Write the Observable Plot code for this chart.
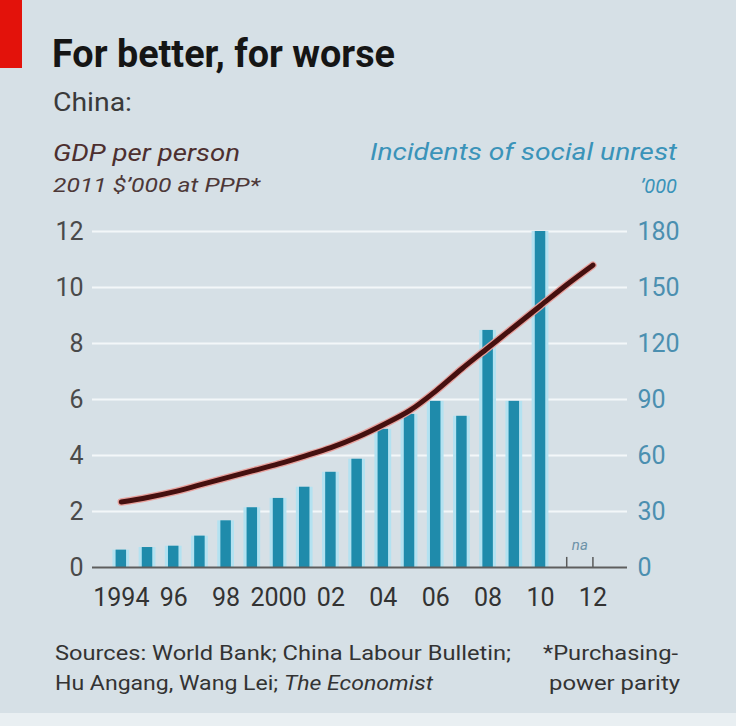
<!DOCTYPE html>
<html><head><meta charset="utf-8">
<script src="https://cdn.jsdelivr.net/npm/d3@7"></script>
<script src="https://cdn.jsdelivr.net/npm/@observablehq/plot@0.6"></script>
<style>
html,body{margin:0;padding:0;}
body{width:736px;height:726px;background:#d6e0e6;position:relative;overflow:hidden;font-family:Roboto,"DejaVu Sans",sans-serif;}
#chart{position:absolute;left:0;top:200px;}
#overlay{position:absolute;left:0;top:0;}
</style></head><body>
<div style="position:absolute;left:0;top:0;width:22px;height:68px;background:#e3120b"></div>
<div style="position:absolute;left:0;top:713px;width:736px;height:13px;background:#e9eff2"></div>
<svg id="overlay" width="736" height="726" font-family="Roboto, 'DejaVu Sans', sans-serif">
  <text x="52" y="67" font-size="38" font-weight="bold" fill="#151515" textLength="343" lengthAdjust="spacingAndGlyphs">For better, for worse</text>
  <text x="53" y="111" font-size="26" fill="#3a3a3a" textLength="79" lengthAdjust="spacingAndGlyphs">China:</text>
  <text x="53" y="161" font-size="24" font-style="italic" fill="#4d2f2f" textLength="187" lengthAdjust="spacingAndGlyphs">GDP per person</text>
  <text x="53" y="192" font-size="20" font-style="italic" fill="#4d3838" textLength="207" lengthAdjust="spacingAndGlyphs">2011 $’000 at PPP*</text>
  <text x="370" y="160" font-size="24" font-style="italic" fill="#3a93b9" textLength="307" lengthAdjust="spacingAndGlyphs">Incidents of social unrest</text>
  <text x="677" y="193" font-size="20" font-style="italic" fill="#3a93b9" text-anchor="end">’000</text>
  <text x="55" y="660" font-size="21" fill="#333" textLength="456" lengthAdjust="spacingAndGlyphs">Sources: World Bank; China Labour Bulletin;</text>
  <text x="55" y="690" font-size="21" fill="#333" textLength="378" lengthAdjust="spacingAndGlyphs">Hu Angang, Wang Lei; <tspan font-style="italic">The Economist</tspan></text>
  <text x="543" y="660" font-size="21" fill="#333" textLength="135" lengthAdjust="spacingAndGlyphs">*Purchasing-</text>
  <text x="549" y="690" font-size="21" fill="#333" textLength="131" lengthAdjust="spacingAndGlyphs">power parity</text>
</svg>
<div id="chart"></div>
<script>
// GDP per person, 2011 $'000 at PPP
const gdpYears = [1994,1995,1996,1997,1998,1999,2000,2001,2002,2003,2004,2005,2006,2007,2008,2009,2010,2011,2012];
const gdpValues = [2.34,2.50,2.70,2.95,3.20,3.45,3.70,3.98,4.28,4.65,5.10,5.60,6.30,7.10,7.85,8.60,9.35,10.10,10.80];
// Incidents of social unrest, '000
const unrestYears = [1994,1995,1996,1997,1998,1999,2000,2001,2002,2003,2004,2005,2006,2007,2008,2009,2010];
const unrestValues = [9.3,10.7,11.4,16.8,25,32,37,43,51,58,74,82,89,81,127,89,180];
// axes
const xTickYears = [1994,1996,1998,2000,2002,2004,2006,2008,2010,2012];
const xTickLabels = ["1994","96","98","2000","02","04","06","08","10","12"];
const leftTicks = [0,2,4,6,8,10,12];
const rightTickLabels = ["0","30","60","90","120","150","180"];
const naYears = [2011, 2012];
const naLabel = "na";

const ratio = 15; // right axis units per left axis unit
const gdp = gdpYears.map((y,i)=>({year:y, v:gdpValues[i]}));
const unrest = unrestYears.map((y,i)=>({year:y, v:unrestValues[i]/ratio}));

const plot = Plot.plot({
  width: 736, height: 440,
  marginTop: 31, marginBottom: 73, marginLeft: 92, marginRight: 109,
  style: {background: "transparent", fontFamily: "Roboto, 'DejaVu Sans', sans-serif", fontSize: "25px"},
  x: {domain: [1992.9, 2013.32], axis: null, label: null},
  y: {domain: [0, 12], axis: null, label: null},
  marks: [
    Plot.ruleY(leftTicks.filter(d=>d>0), {stroke: "#f3f7f9", strokeWidth: 2.2}),
    Plot.rectY(unrest, {x1: d=>d.year-0.32, x2: d=>d.year+0.32, y1: 0, y2: "v", fill: "#b3e2f1"}),
    Plot.rectY(unrest, {x1: d=>d.year-0.2, x2: d=>d.year+0.2, y1: 0, y2: "v", fill: "#1f8bab"}),
    Plot.line(gdp, {x: "year", y: "v", stroke: "#e7a09c", strokeWidth: 7.5, curve: "monotone-x"}),
    Plot.line(gdp, {x: "year", y: "v", stroke: "#45100f", strokeWidth: 5, curve: "monotone-x"}),
    Plot.ruleX(naYears, {y1: 0, y2: 0.36, stroke: "#5a5a5a", strokeWidth: 1.5}),
    Plot.text([naLabel], {x: d=>(naYears[0]+naYears[1])/2, y: 0.8, text: d=>d, fontStyle: "italic", fontSize: 15, fill: "#6d92a8"}),
    Plot.ruleY([0], {stroke: "#5e5e5e", strokeWidth: 2}),
    Plot.axisY(leftTicks, {anchor: "left", label: null, tickSize: 0, tickPadding: 9, color: "#4a4a4a", fontSize: 25}),
    Plot.axisY(leftTicks, {anchor: "right", label: null, tickSize: 0, tickPadding: 10, color: "#4b8fb0", fontSize: 25,
      tickFormat: d => rightTickLabels[leftTicks.indexOf(d)]}),
    Plot.axisX(xTickYears, {anchor: "bottom", label: null, tickSize: 0, tickPadding: 21, color: "#333", fontSize: 25,
      tickFormat: d => xTickLabels[xTickYears.indexOf(d)]})
  ]
});
document.getElementById("chart").appendChild(plot);
</script>
</body></html>
